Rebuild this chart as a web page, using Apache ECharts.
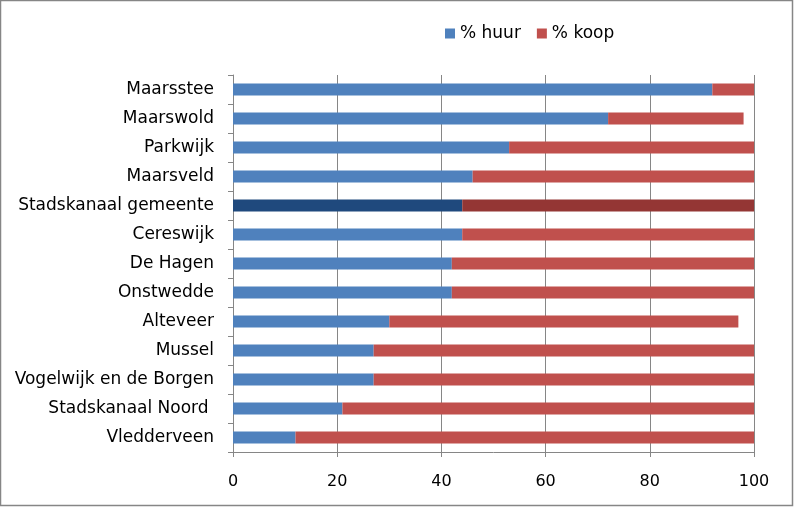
<!DOCTYPE html>
<html>
<head>
<meta charset="utf-8">
<script src="https://cdn.jsdelivr.net/npm/echarts@6/dist/echarts.min.js"></script>
<style>
  html, body { margin: 0; padding: 0; background: #fff; }
  #chart { width: 794px; height: 507px; }
</style>
</head>
<body>
<div id="chart"></div>
<script>
// wijken, van boven naar beneden
const categories = [
  'Maarsstee', 'Maarswold', 'Parkwijk', 'Maarsveld', 'Stadskanaal gemeente',
  'Cereswijk', 'De Hagen', 'Onstwedde', 'Alteveer', 'Mussel',
  'Vogelwijk en de Borgen', 'Stadskanaal Noord ', 'Vledderveen'
];
const huur = [92, 72, 53, 46, 44, 44, 42, 42, 30, 27, 27, 21, 12];
const koop = [8, 26, 47, 54, 56, 56, 58, 58, 67, 73, 73, 79, 88];
const xTicks = [0, 20, 40, 60, 80, 100];
const highlight = 'Stadskanaal gemeente';

const FONT = 'DejaVu Sans';
const GRAY = '#868686';

const chart = echarts.init(document.getElementById('chart'));

// gemeente-balk donkerder kleuren
function toData(values, color, darkColor) {
  return values.map((v, i) => ({
    value: v,
    itemStyle: { color: categories[i] === highlight ? darkColor : color }
  }));
}

const option = {
  animation: false,
  textStyle: { fontFamily: FONT },
  graphic: [{
    type: 'rect',
    shape: { x: 0.5, y: 0.5, width: 792, height: 505 },
    style: { fill: 'none', stroke: GRAY, lineWidth: 1.5 },
    silent: true
  }],
  legend: {
    top: 25,
    left: 445,
    padding: 0,
    itemWidth: 10,
    itemHeight: 10,
    itemGap: 16,
    icon: 'rect',
    textStyle: { fontSize: 17, color: '#000', fontFamily: FONT },
    data: [
      { name: '% huur', itemStyle: { color: '#4F81BD' } },
      { name: '% koop', itemStyle: { color: '#C0504D' } }
    ]
  },
  grid: { left: 233, right: 40, top: 75, bottom: 55, containLabel: false },
  xAxis: {
    type: 'value',
    min: xTicks[0],
    max: xTicks[xTicks.length - 1],
    interval: 20,
    axisLine: { show: true, lineStyle: { color: GRAY } },
    axisTick: { show: true, length: 5, lineStyle: { color: GRAY } },
    splitLine: { show: true, lineStyle: { color: GRAY, width: 1 } },
    axisLabel: { fontSize: 16, color: '#000', margin: 22, fontFamily: FONT }
  },
  yAxis: {
    type: 'category',
    inverse: true,
    data: categories,
    axisLine: { show: true, lineStyle: { color: GRAY } },
    axisTick: { show: true, length: 5, lineStyle: { color: GRAY } },
    axisLabel: { fontSize: 17, color: '#000', margin: 19, fontFamily: FONT }
  },
  series: [
    {
      name: '% huur',
      type: 'bar',
      stack: 'totaal',
      barWidth: 12,
      itemStyle: { color: '#4F81BD' },
      data: toData(huur, '#4F81BD', '#1F497D')
    },
    {
      name: '% koop',
      type: 'bar',
      stack: 'totaal',
      barWidth: 12,
      itemStyle: { color: '#C0504D' },
      data: toData(koop, '#C0504D', '#943634')
    }
  ]
};

chart.setOption(option);
</script>
</body>
</html>
